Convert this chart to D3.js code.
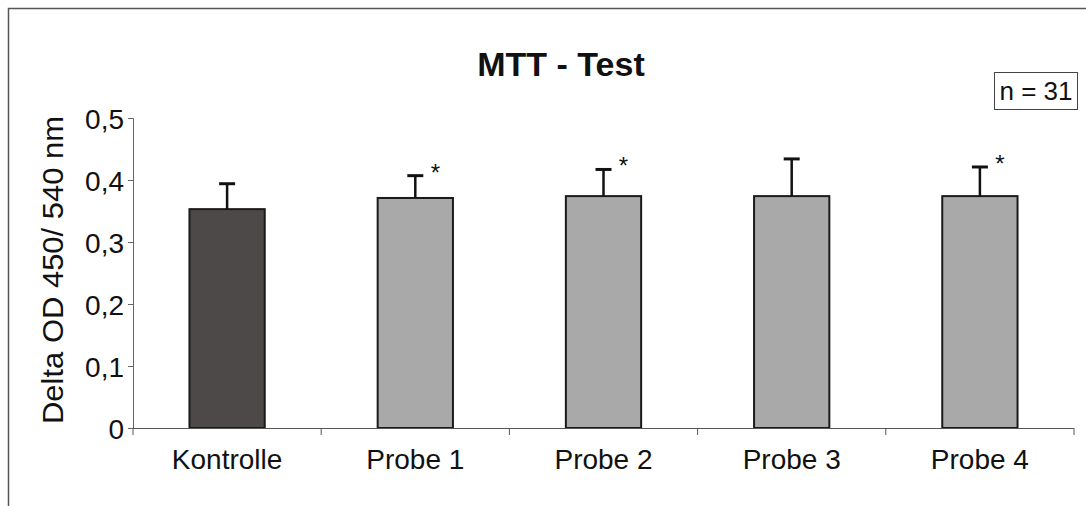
<!DOCTYPE html>
<html><head><meta charset="utf-8">
<script src="https://cdn.jsdelivr.net/npm/d3@7"></script>
<style>
html,body{margin:0;padding:0;background:#fff;}
svg{display:block;font-family:"Liberation Sans",Arial,sans-serif;}
</style></head>
<body>
<svg id="chart" width="1086" height="506"></svg>
<script>
const categories = ["Kontrolle", "Probe 1", "Probe 2", "Probe 3", "Probe 4"];
const means = [0.353, 0.371, 0.374, 0.374, 0.374];
const errors = [0.041, 0.036, 0.043, 0.060, 0.047];
const significant = [false, true, true, false, true];
const yTicks = [0, 0.1, 0.2, 0.3, 0.4, 0.5];
const title = "MTT - Test";
const yTitle = "Delta OD 450/ 540 nm";
const nLabel = "n = 31";

(function () {
const svg = d3.select("#chart");
const mLeft = 133, mRight = 1074, mTop = 118, mBottom = 428;

// outer frame
svg.append("path").attr("d", "M8.5,506 L8.5,8.5 L1086,8.5")
  .attr("fill", "none").attr("stroke", "#555").attr("stroke-width", 1.5);

const x = d3.scaleBand().domain(categories).range([mLeft, mRight]).paddingInner(0.6).paddingOuter(0.3);
const y = d3.scaleLinear().domain([0, 0.5]).range([mBottom, mTop]);

// bars
svg.append("g").selectAll("rect").data(categories).join("rect")
  .attr("x", d => x(d)).attr("width", x.bandwidth())
  .attr("y", (d, i) => y(means[i])).attr("height", (d, i) => y(0) - y(means[i]))
  .attr("fill", (d, i) => i === 0 ? "#4d4948" : "#a9a9a9")
  .attr("stroke", "#1a1a1a").attr("stroke-width", 2);

// error bars
const eg = svg.append("g").attr("stroke", "#111");
categories.forEach((c, i) => {
  const cx = x(c) + x.bandwidth() / 2;
  eg.append("line").attr("x1", cx).attr("x2", cx)
    .attr("y1", y(means[i])).attr("y2", y(means[i] + errors[i])).attr("stroke-width", 2.5);
  eg.append("line").attr("x1", cx - 8).attr("x2", cx + 8)
    .attr("y1", y(means[i] + errors[i])).attr("y2", y(means[i] + errors[i])).attr("stroke-width", 3);
  if (significant[i]) {
    svg.append("text").attr("x", cx + 20).attr("y", y(means[i] + errors[i]) + 5)
      .attr("text-anchor", "middle").attr("font-size", 24).attr("fill", "#111").text("*");
  }
});

// y axis
const yAxis = d3.axisLeft(y).tickValues(yTicks).tickSize(5).tickPadding(4)
  .tickFormat(d => d === 0 ? "0" : d3.format(".1f")(d).replace(".", ","));
const ya = svg.append("g").attr("transform", `translate(${mLeft},0)`).call(yAxis);
ya.select(".domain").attr("stroke", "#666");
ya.selectAll(".tick line").attr("stroke", "#666");
ya.selectAll(".tick text").attr("font-size", 28).attr("fill", "#111")
  .attr("font-family", "Liberation Sans, Arial, sans-serif").attr("dy", "0.36em");

// x axis
const xa = svg.append("g").attr("transform", `translate(0,${mBottom})`);
xa.append("line").attr("x1", mLeft).attr("x2", mRight).attr("y1", 0.5).attr("y2", 0.5).attr("stroke", "#555");
xa.selectAll("line.tk").data(d3.range(categories.length + 1)).join("line").attr("class", "tk")
  .attr("x1", k => mLeft + k * x.step()).attr("x2", k => mLeft + k * x.step())
  .attr("y1", 0).attr("y2", 7).attr("stroke", "#555");
xa.selectAll("text").data(categories).join("text")
  .attr("x", d => x(d) + x.bandwidth() / 2).attr("y", 41)
  .attr("text-anchor", "middle").attr("font-size", 28).attr("fill", "#111").text(d => d);

// y title
svg.append("text").attr("transform", "translate(63,270) rotate(-90)")
  .attr("text-anchor", "middle").attr("font-size", 29).attr("fill", "#111")
  .attr("textLength", 308).attr("lengthAdjust", "spacingAndGlyphs").text(yTitle);

// title
svg.append("text").attr("x", 561).attr("y", 76).attr("text-anchor", "middle")
  .attr("font-size", 34).attr("font-weight", "bold").attr("fill", "#111").text(title);

// n box
svg.append("rect").attr("x", 994.5).attr("y", 72.5).attr("width", 83).attr("height", 37)
  .attr("fill", "#fff").attr("stroke", "#444").attr("stroke-width", 1);
svg.append("text").attr("x", 1036).attr("y", 100).attr("text-anchor", "middle")
  .attr("font-size", 26).attr("fill", "#111").text(nLabel);
})();
</script>
</body></html>
